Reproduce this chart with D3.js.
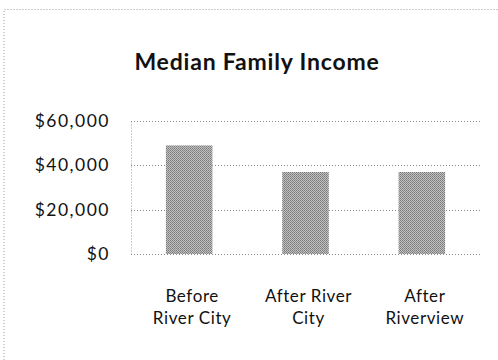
<!DOCTYPE html>
<html>
<head>
<meta charset="utf-8">
<script src="https://cdn.jsdelivr.net/npm/d3@7"></script>
<style>
  html, body { margin: 0; padding: 0; background: #fff; }
  svg { display: block; }
  text { font-family: Lato, "Open Sans", sans-serif; fill: #111; }
</style>
</head>
<body>
<script>
// Median family income by period
const categories = [["Before", "River City"], ["After River", "City"], ["After", "Riverview"]];
const values = [49000, 37000, 37000];
const tickValues = [0, 20000, 40000, 60000];
const title = "Median Family Income";

const W = 498, H = 360;
const plot = { left: 131, right: 480, top: 121, bottom: 254 };

const svg = d3.select("body").append("svg")
  .attr("width", W).attr("height", H);

// halftone-like fill for the columns
const defs = svg.append("defs");
const pat = defs.append("pattern")
  .attr("id", "dither").attr("width", 2).attr("height", 2)
  .attr("patternUnits", "userSpaceOnUse");
pat.append("rect").attr("width", 2).attr("height", 2).attr("fill", "#c0c0c0");
pat.append("rect").attr("width", 1).attr("height", 1).attr("fill", "#7a7a7a");
pat.append("rect").attr("x", 1).attr("y", 1).attr("width", 1).attr("height", 1).attr("fill", "#8a8a8a");

// outer chart frame (dotted)
svg.append("path")
  .attr("d", `M4,${H} L4,9.5 L${W},9.5`)
  .attr("fill", "none").attr("stroke", "#9a9a9a")
  .attr("stroke-width", 1).attr("stroke-dasharray", "1,2");

const x = d3.scaleBand()
  .domain(d3.range(categories.length))
  .range([plot.left, plot.right])
  .paddingInner(0.6).paddingOuter(0.3);

const y = d3.scaleLinear()
  .domain([0, 60000])
  .range([plot.bottom, plot.top]);

// gridlines
svg.append("g")
  .selectAll("line")
  .data(tickValues)
  .join("line")
  .attr("x1", plot.left).attr("x2", plot.right)
  .attr("y1", d => Math.round(y(d)) + 0.5).attr("y2", d => Math.round(y(d)) + 0.5)
  .attr("stroke", "#8a8a8a").attr("stroke-width", 1)
  .attr("stroke-dasharray", "1,2");

// value axis
const yAxis = d3.axisLeft(y)
  .tickValues(tickValues)
  .tickFormat(d => "$" + d3.format(",")(d))
  .tickSize(0).tickPadding(21);
const gy = svg.append("g")
  .attr("transform", `translate(${plot.left},0)`)
  .call(yAxis);
gy.select(".domain")
  .attr("stroke", "#9a9a9a").attr("stroke-dasharray", "1,2");
gy.selectAll("text")
  .style("font-size", "17.5px")
  .style("letter-spacing", "1.5px")
  .style("font-family", "Lato, 'Open Sans', sans-serif")
  .attr("fill", "#111");

// columns
svg.append("g")
  .selectAll("rect")
  .data(values)
  .join("rect")
  .attr("x", (d, i) => x(i))
  .attr("width", x.bandwidth())
  .attr("y", d => y(d))
  .attr("height", d => y(0) - y(d))
  .attr("fill", "url(#dither)");

// category labels
const bandCenter = i => x(i) + x.bandwidth() / 2 + 3;
const cat = svg.append("g")
  .selectAll("text")
  .data(categories)
  .join("text")
  .attr("text-anchor", "middle")
  .style("font-size", "17px")
  .style("letter-spacing", "0.6px");
cat.selectAll("tspan")
  .data((d, i) => d.map(line => ({ line, i })))
  .join("tspan")
  .attr("x", d => bandCenter(d.i))
  .attr("y", (d, j) => 302 + j * 21.5)
  .text(d => d.line);

// title
svg.append("text")
  .attr("x", 257).attr("y", 70)
  .attr("text-anchor", "middle")
  .style("font-size", "23px")
  .style("letter-spacing", "0.8px")
  .style("font-weight", "bold")
  .text(title);
</script>
</body>
</html>
